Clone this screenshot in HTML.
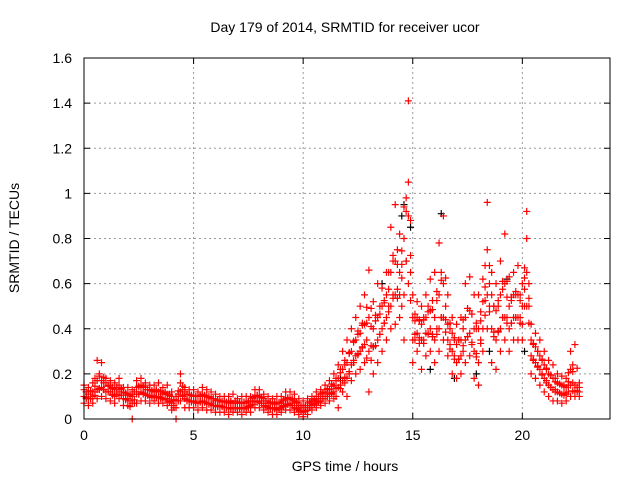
<!DOCTYPE html>
<html><head><meta charset="utf-8"><style>
body{margin:0;background:#fff}
svg{display:block;font-family:"Liberation Sans",sans-serif}
</style></head><body>
<svg id="chart" width="640" height="480" viewBox="0 0 640 480">
<text x="345" y="32" text-anchor="middle" font-size="14">Day 179 of 2014, SRMTID for receiver ucor</text>
<text x="345" y="471" text-anchor="middle" font-size="14">GPS time / hours</text>
<text transform="translate(19,238) rotate(-90)" text-anchor="middle" font-size="14">SRMTID / TECUs</text>
<g id="grid"></g><g id="ticks"></g><g id="marks"></g>
<rect x="84" y="58" width="526" height="361" fill="none" stroke="#000" stroke-width="1"/>
</svg>
<script>
const times=[0,0.2,0.4,0.6,0.8,1,1.2,1.4,1.6,1.8,2,2.2,2.4,2.6,2.8,3,3.2,3.4,3.6,3.8,4,4.2,4.4,4.6,4.8,5,5.2,5.4,5.6,5.8,6,6.2,6.4,6.6,6.8,7,7.2,7.4,7.6,7.8,8,8.2,8.4,8.6,8.8,9,9.2,9.4,9.6,9.8,10,10.2,10.4,10.6,10.8,11,11.2,11.4,11.6,11.8,12,12.2,12.4,12.6,12.8,13,13.2,13.4,13.6,13.8,14,14.2,14.4,14.6,14.8,15,15.2,15.4,15.6,15.8,16,16.2,16.4,16.6,16.8,17,17.2,17.4,17.6,17.8,18,18.2,18.4,18.6,18.8,19,19.2,19.4,19.6,19.8,20,20.2,20.4,20.6,20.8,21,21.2,21.4,21.6,21.8,22,22.2,22.4,22.6];
const redLow=[.07,.06,.07,.09,.10,.09,.08,.07,.09,.06,.06,0,.07,.08,.08,.07,.08,.07,.07,.06,.04,0,.08,.05,.05,.05,.04,.05,.04,.04,.03,.03,.03,.02,.03,.03,.02,.03,.03,.05,.05,.04,.03,.02,.02,.03,.04,.04,.03,.02,.01,.02,.04,.05,.06,.07,.08,.09,.05,.12,.10,.17,.20,.22,.25,.12,.20,.25,.30,.35,.40,.42,.45,.35,.60,.25,.30,.22,.28,.30,.25,.30,.35,.28,.20,.18,.20,.25,.28,.18,.15,.30,.40,.25,.22,.30,.35,.30,.35,.35,.35,.50,.20,.18,.15,.12,.10,.08,.08,.07,.08,.10,.10,.10];
const redMidA=[.10,.09,.10,.13,.14,.12,.12,.10,.12,.09,.09,.07,.11,.12,.11,.10,.10,.10,.09,.09,.07,.05,.12,.09,.08,.08,.07,.08,.07,.07,.06,.06,.05,.05,.05,.05,.05,.05,.06,.08,.08,.06,.05,.05,.04,.05,.06,.07,.05,.04,.03,.04,.06,.07,.08,.10,.11,.12,.14,.17,.18,.24,.28,.30,.33,.30,.32,.35,.40,.45,.50,.55,.55,.55,.90,.35,.38,.35,.38,.40,.35,.40,.45,.35,.30,.25,.28,.35,.38,.30,.25,.40,.55,.40,.35,.40,.45,.40,.45,.45,.42,.65,.28,.25,.22,.18,.15,.13,.12,.11,.11,.15,.12,.12];
const redMidB=[.13,.11,.12,.17,.17,.16,.15,.13,.15,.12,.11,.10,.14,.15,.14,.13,.12,.12,.11,.11,.10,.08,.16,.12,.11,.10,.10,.11,.10,.09,.08,.08,.08,.07,.07,.07,.07,.07,.08,.10,.10,.09,.07,.07,.07,.07,.09,.09,.08,.06,.05,.06,.08,.09,.11,.12,.13,.15,.18,.22,.25,.30,.35,.38,.42,.45,.40,.45,.50,.55,.65,.70,.65,.80,1.05,.45,.45,.42,.45,.48,.45,.55,.60,.42,.38,.33,.35,.45,.48,.40,.40,.52,.75,.55,.48,.55,.60,.50,.55,.55,.50,.80,.35,.32,.28,.24,.20,.18,.16,.15,.14,.22,.15,.14];
const redHigh=[.15,.14,.16,.26,.25,.18,.17,.16,.18,.14,.14,.13,.17,.18,.16,.15,.15,.16,.14,.15,.12,.10,.20,.14,.13,.13,.12,.14,.13,.12,.11,.10,.10,.10,.11,.09,.10,.10,.10,.13,.13,.11,.10,.09,.10,.10,.12,.12,.11,.09,.08,.09,.10,.12,.13,.15,.17,.20,.24,.30,.35,.40,.45,.50,.55,.66,.52,.60,.58,.65,.85,.95,.82,.94,1.41,.55,.52,.50,.55,.62,.65,.78,.90,.55,.45,.42,.45,.60,.63,.55,.55,.62,.96,.65,.60,.70,.82,.63,.65,.68,.60,.92,.42,.38,.35,.30,.26,.24,.20,.19,.18,.30,.33,.16];
const blackX=[14.6,14.5,16.3,13.2,15.8,17.9,16.9,19.3,11.7,20.1,13.6,14.9,18.5];
const blackY=[0.95,0.90,0.91,0.32,0.22,0.20,0.18,0.62,0.18,0.30,0.60,0.85,0.30];
const xTicks=[0,5,10,15,20];
const yTicks=[0,0.2,0.4,0.6,0.8,1,1.2,1.4,1.6];
const yTickLabels=["0","0.2","0.4","0.6","0.8","1","1.2","1.4","1.6"];

const X0=84,X1=610,Y0=419,Y1=58,XMAX=24,YMAX=1.6;
const xs=v=>X0+(X1-X0)*v/XMAX;
const ys=v=>Y0-(Y0-Y1)*v/YMAX;
const NS="http://www.w3.org/2000/svg";
function mk(tag,parent,attrs){const e=document.createElementNS(NS,tag);for(const k in attrs)e.setAttribute(k,attrs[k]);parent.appendChild(e);return e;}
const grid=document.getElementById('grid'),ticks=document.getElementById('ticks'),marks=document.getElementById('marks');
xTicks.forEach(t=>{const x=xs(t);
 if(t>0){const g=mk('line',grid,{x1:x,x2:x,y1:Y0,y2:Y1,stroke:'#999','stroke-dasharray':'2,3'});
 
 }
 mk('line',ticks,{x1:x,x2:x,y1:Y0,y2:Y0-6,stroke:'#000'});
 mk('line',ticks,{x1:x,x2:x,y1:Y1,y2:Y1+6,stroke:'#000'});
 const l=mk('text',ticks,{x:x,y:Y0+21,'text-anchor':'middle','font-size':'14'});l.textContent=t;
 
 
});
yTicks.forEach((t,i)=>{const y=ys(t);
 if(t>0&&t<YMAX){const g=mk('line',grid,{x1:X0,x2:X1,y1:y,y2:y,stroke:'#999','stroke-dasharray':'2,3'});
 
 }
 mk('line',ticks,{x1:X0,x2:X0+6,y1:y,y2:y,stroke:'#000'});
 mk('line',ticks,{x1:X1,x2:X1-6,y1:y,y2:y,stroke:'#000'});
 const l=mk('text',ticks,{x:X0-12,y:y+5,'text-anchor':'end','font-size':'14'});l.textContent=yTickLabels[i];
 
 
});
function plus(x,y,c,name){const p=mk('path',marks,{d:`M${x-3.5},${y}h7M${x},${y-3.5}v7`,stroke:c,'stroke-width':'1.2',fill:'none'});
 
 }
blackX.forEach((t,i)=>plus(xs(t),ys(blackY[i]),'#000','black-point'));
const bands=[redLow,redMidA,redMidB,redHigh];
const cross=[2,3,0,1];
bands.forEach((arr,b)=>{
 const other=bands[cross[b]];
 times.forEach((t,i)=>{plus(xs(t),ys(arr[i]),'#f00','red-point');
  if(i+1<times.length){plus(xs((t+times[i+1])/2),ys((arr[i]+other[i+1])/2),'#f00','red-point');}
 });
});
</script>
</body></html>
